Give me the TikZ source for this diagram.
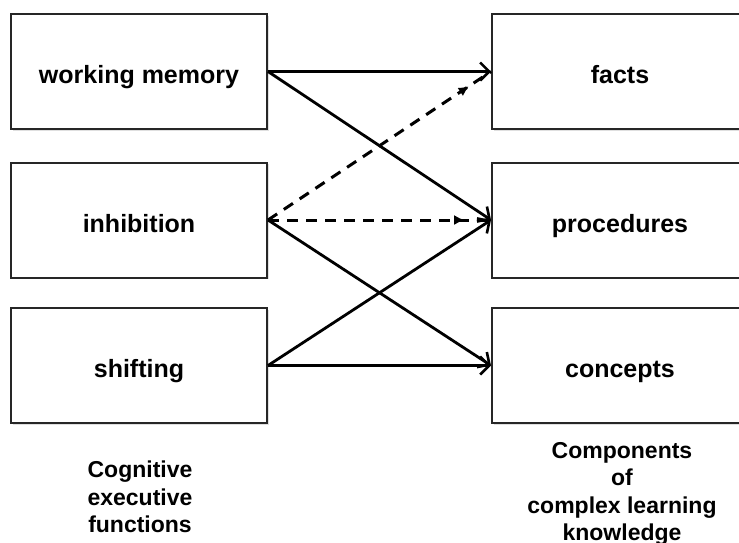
\documentclass[tikz,border=0pt]{standalone}
\usepackage{fontspec}
\setmainfont{Liberation Sans}
\usetikzlibrary{arrows.meta,shadows,decorations.markings}
\begin{document}
\begin{tikzpicture}[x=1pt,y=-1pt,
  box/.style={draw=black!85, line width=2pt, fill=white, minimum width=256pt, minimum height=115pt, inner sep=0pt, text height=24pt, text depth=0pt, font=\bfseries\fontsize{25}{30}\selectfont,
    drop shadow={opacity=0.25, shadow xshift=1.5pt, shadow yshift=-1.5pt}},
  lbl/.style={font=\bfseries\fontsize{23}{27.3}\selectfont, align=center},
  conn/.style={line width=2.8pt, -{Straight Barb[length=9pt,width=18pt,line width=2.6pt]}},
  dconn/.style={line width=3pt, dash pattern=on 11pt off 8pt,
    postaction={decorate, decoration={markings, mark=at position #1 with {\arrow{Latex[length=10pt,width=10pt]}}}}}
]
\useasboundingbox (0,0) rectangle (739,542);
\node[box] (wm) at (139,71.5) {working memory};
\node[box] (inh) at (139,220) {inhibition};
\node[box] (sh) at (139,365.5) {shifting};
\node[box] (fa) at (620,71.5) {facts};
\node[box] (pr) at (620,220) {procedures};
\node[box] (co) at (620,365.5) {concepts};
\node[lbl] (lleft) at (140,497) {Cognitive\\executive\\functions};
\node[lbl, anchor=north] (lright) at (622,439) {Components\\of\\complex learning\\knowledge};
\draw[dconn=0.9] (inh.east) -- (fa.west);
\draw[dconn=0.88] (inh.east) -- (pr.west);
\draw[conn] (wm.east) -- (fa.west);
\draw[conn] (wm.east) -- (pr.west);
\draw[conn] (inh.east) -- (co.west);
\draw[conn] (sh.east) -- (pr.west);
\draw[conn] (sh.east) -- (co.west);
\end{tikzpicture}
\end{document}
